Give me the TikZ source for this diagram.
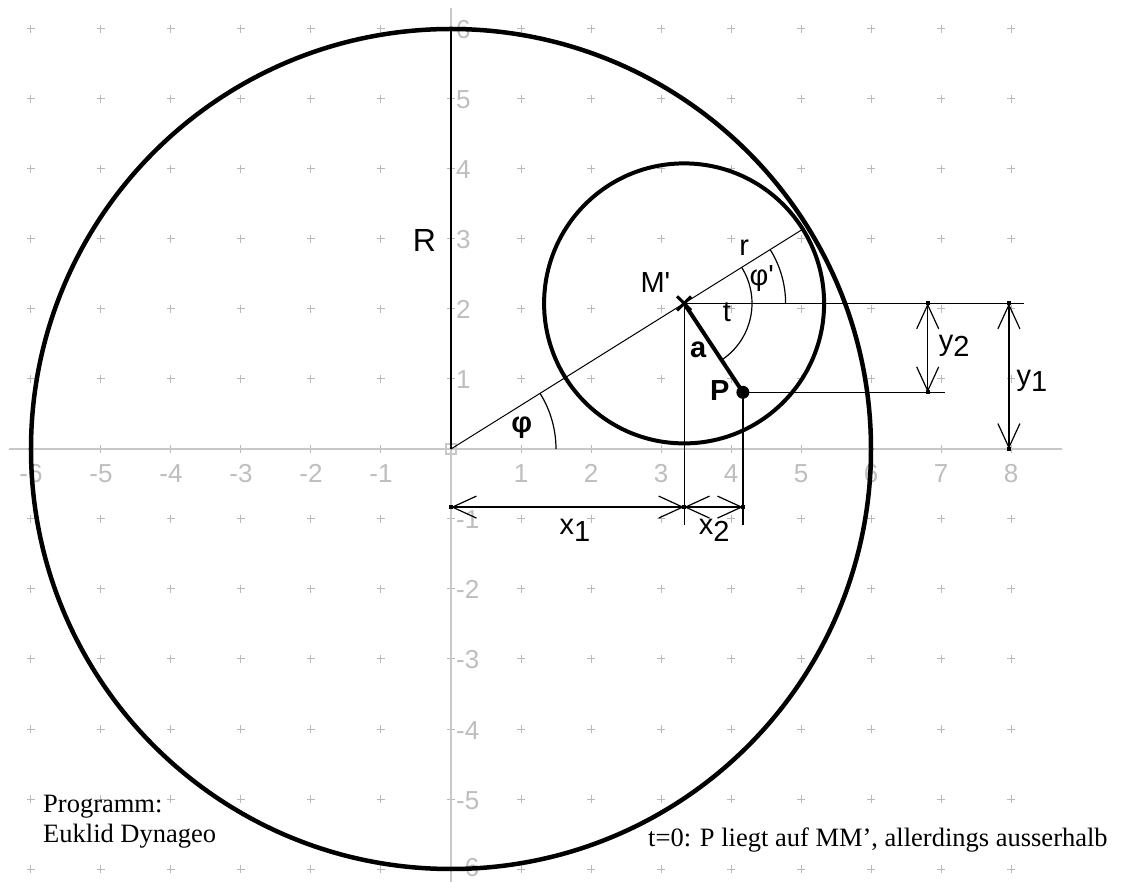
\documentclass[tikz,border=0pt]{standalone}
\usepackage{fontspec}
\setmainfont{Liberation Serif}
\newfontfamily\arial{Liberation Sans}[Ligatures=TeXOff]
\usetikzlibrary{arrows.meta}
\definecolor{gridc}{RGB}{185,185,185}
\definecolor{axisc}{RGB}{200,200,200}
\definecolor{labc}{RGB}{190,190,190}
\begin{document}
\begin{tikzpicture}[x=70pt,y=70pt,
  gridm/.style={draw=gridc, line width=1pt},
  axisl/.style={draw=axisc, line width=1.5pt},
  ticklab/.style={text=labc, font=\arial\fontsize{26}{28}\selectfont, inner sep=0pt},
  lab/.style={font=\arial\fontsize{29}{32}\selectfont, inner sep=0pt},
  blab/.style={font=\arial\bfseries\fontsize{29}{32}\selectfont, inner sep=0pt},
  thinl/.style={draw=black, line width=1.2pt},
  bigc/.style={draw=black, line width=4.5pt},
  smallc/.style={draw=black, line width=4pt},
  dimline/.style={draw=black, line width=1.2pt, >={Straight Barb[length=24pt,width=22pt]}, <->},
  txt/.style={font=\fontsize{26.5}{30}\selectfont, inner sep=0pt}
]
\useasboundingbox (-451pt,-433pt) rectangle (678pt,449pt);
\fill[white] (-451pt,-433pt) rectangle (678pt,449pt);

% grid
\foreach \i in {-6,...,8}{
  \foreach \j in {-6,...,6}{
    \draw[gridm] (\i,\j) ++(-4pt,0) -- ++(8pt,0);
    \draw[gridm] (\i,\j) ++(0,-4pt) -- ++(0,8pt);
  }
}
% axes
\coordinate (xl) at (-442pt,0);
\coordinate (xr) at (611pt,0);
\coordinate (yb) at (0,-433pt);
\coordinate (yt) at (0,441pt);
\draw[axisl] (xl) -- (xr);
\draw[axisl] (yb) -- (yt);
\foreach \i in {-6,...,-1,1,2,...,8}{
  \node[ticklab, anchor=base] (tx\i) at (\i,-34pt) {\i};
}
\foreach \j in {-5,...,-1,1,2,...,6}{
  \node[ticklab, anchor=base west, xshift=5pt, yshift=-10pt] (ty\j) at (0,\j) {\j};
}
\node[ticklab, anchor=base west, xshift=5pt, yshift=-7pt] (tym6) at (0,-6) {-6};

% points
\coordinate (O) at (0,0);
\coordinate (M) at (3.33,2.08);
\coordinate (P) at (4.17,0.81);
\coordinate (T) at (32:5.95);
\coordinate (Rtop) at (0,6);
\coordinate (Mh) at (8.19,2.08);
\coordinate (Ph) at (7.06,0.81);
\coordinate (Mv) at (3.33,-1.09);
\coordinate (Pv) at (4.17,-1.09);
\coordinate (X1a) at (0,-0.83);
\coordinate (X1b) at (3.33,-0.83);
\coordinate (X2b) at (4.17,-0.83);
\coordinate (Y2a) at (6.81,2.08);
\coordinate (Y2b) at (6.81,0.81);
\coordinate (Y1a) at (7.97,2.08);
\coordinate (Y1b) at (7.97,0);

\draw[axisc, line width=1.2pt] (-5pt,-5pt) rectangle (5pt,5pt);

% thin construction lines
\draw[thinl, line width=1.5pt] (O) -- (Rtop);
\draw[thinl, line width=1pt] (O) -- (T);
\draw[thinl] (M) -- (Mh);
\draw[thinl] (P) -- (Ph);
\draw[thinl] (M) -- (Mv);
\draw[thinl] (P) -- (Pv);

% angle arcs
\draw[thinl] (O) ++(1.5,0) arc[start angle=0, end angle=32, radius=1.5];
\draw[thinl] (M) ++(1.45,0) arc[start angle=0, end angle=32, radius=1.45];
\draw[thinl] (M) ++(32:0.97) arc[start angle=32, end angle=-56.5, radius=0.97];

% dimension lines
\draw[dimline] (X1a) -- (X1b);
\draw[dimline] (X1b) -- (X2b);
\draw[dimline] (Y2a) -- (Y2b);
\draw[dimline] (Y1a) -- (Y1b);
\foreach \c in {X1a,X1b,X2b,Y2a,Y2b,Y1a,Y1b}{
  \fill[black] (\c) ++(-2pt,-2pt) rectangle ++(4pt,4pt);
}

% circles
\draw[bigc] (O) circle[radius=6];
\draw[smallc] (M) circle[radius=2];

% segment a, M' cross and P dot
\draw[black, line width=4pt] (M) -- (P);
\draw[black, line width=3pt] (M) ++(-7pt,-7pt) -- ++(14pt,14pt);
\draw[black, line width=3pt] (M) ++(-7pt,7pt) -- ++(14pt,-14pt);
\fill[black] (P) circle[radius=6.5pt];

% labels
\node[lab, font=\arial\fontsize{32}{34}\selectfont] (Rl) at (-0.38,2.98) {R};
\node[lab] (Ml) at (2.92,2.38) {M'};
\node[lab] (rl) at (4.19,2.87) {r};
\node[lab] (phpl) at (4.44,2.43) {φ'};
\node[lab] (tl) at (3.94,1.96) {t};
\node[blab] (al) at (3.53,1.41) {a};
\node[blab] (Pl) at (3.84,0.84) {P};
\node[blab] (phil) at (1.01,0.30) {φ};
\node[lab] (x1l) at (1.77,-1.157) {x\raisebox{-7pt}{1}};
\node[lab] (x2l) at (3.76,-1.157) {x\raisebox{-7pt}{2}};
\node[lab] (y2l) at (7.19,1.47) {y\raisebox{-6pt}{2}};
\node[lab] (y1l) at (8.30,0.97) {y\raisebox{-6pt}{1}};

% texts
\node[txt, anchor=base west] (prog1) at (-408pt,-363pt) {Programm:};
\node[txt, anchor=base west] (prog2) at (-408pt,-393pt) {Euklid Dynageo};
\node[txt, anchor=base west] (note) at (197pt,-397pt) {t=0: P liegt auf MM’, allerdings ausserhalb};
\end{tikzpicture}
\end{document}
